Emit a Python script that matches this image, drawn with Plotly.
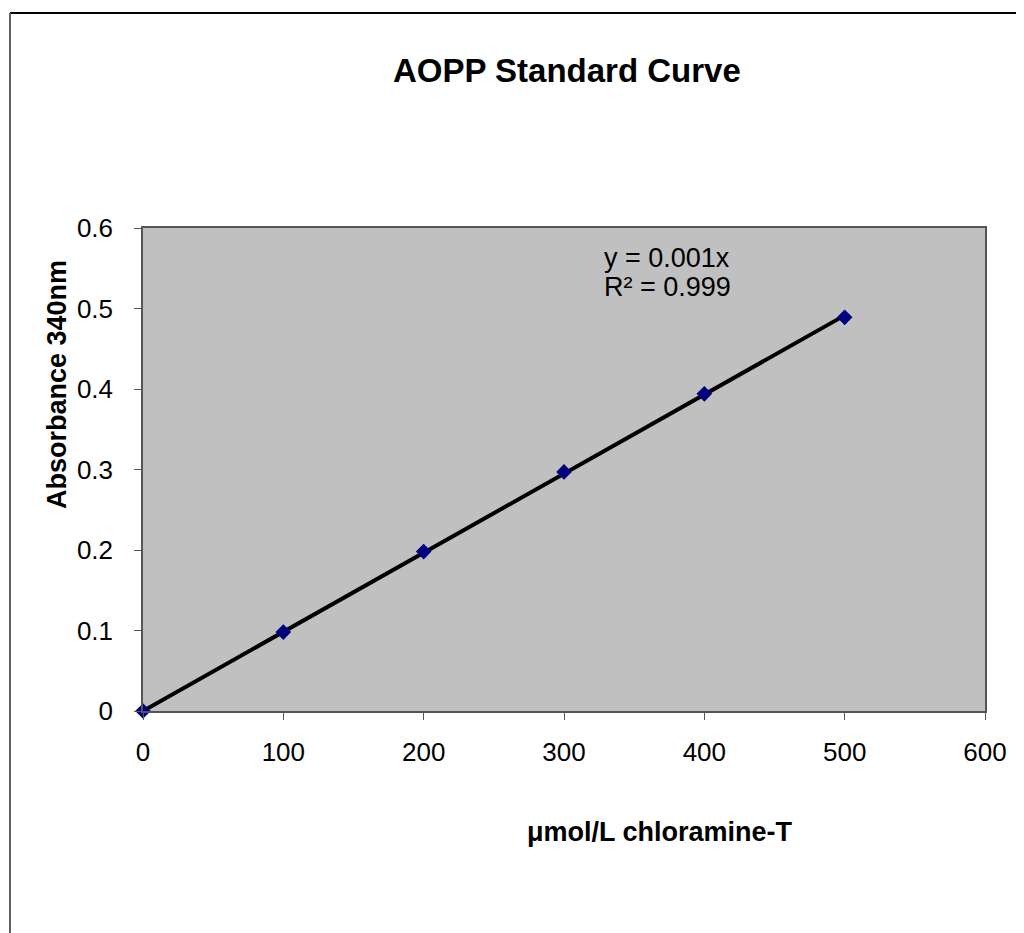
import numpy as np
import plotly.graph_objects as go

concentration = [0, 100, 200, 300, 400, 500]
absorbance = [0.0, 0.098, 0.198, 0.297, 0.394, 0.489]
x_ticks = [0, 100, 200, 300, 400, 500, 600]
y_ticks = [0, 0.1, 0.2, 0.3, 0.4, 0.5, 0.6]
y_tick_text = ["0", "0.1", "0.2", "0.3", "0.4", "0.5", "0.6"]

xa = np.array(concentration, dtype=float)
ya = np.array(absorbance, dtype=float)
slope = float((xa * ya).sum() / (xa * xa).sum())
fit_x = [0, 500]
fit_y = [slope * v for v in fit_x]

# page body has an 8px margin; work in reference coordinates and shift
OFF = 8
W, H = 1024 - OFF, 933 - OFF
L, R, T, B = 143 - OFF, 985 - OFF, 228 - OFF, 711 - OFF
pw, ph = R - L, B - T

def px(x):
    return (x - OFF - L) / pw

def py(y):
    return (B - (y - OFF)) / ph

font = "Liberation Sans, Arial, sans-serif"

fig = go.Figure()
fig.add_trace(go.Scatter(x=fit_x, y=fit_y, mode="lines",
                         line=dict(color="black", width=4), hoverinfo="skip",
                         cliponaxis=False))
fig.add_trace(go.Scatter(x=concentration, y=absorbance, mode="markers",
                         marker=dict(symbol="diamond", size=12, color="#000080",
                                     line=dict(width=0)),
                         cliponaxis=False))

fig.update_layout(
    width=W, height=H,
    margin=dict(l=L, r=W - R, t=T, b=H - B),
    paper_bgcolor="white", plot_bgcolor="#C0C0C0",
    showlegend=False,
    font=dict(family=font, color="black", size=26),
)
fig.update_xaxes(range=[0, 600], tickvals=x_ticks, ticktext=[str(v) for v in x_ticks],
                 showgrid=False, zeroline=False, showline=True, linecolor="#555555",
                 linewidth=1.5, mirror=True, ticks="outside", ticklen=7, tickcolor="#555555",
                 tickfont=dict(size=26, family=font), ticklabelstandoff=10)
fig.update_yaxes(range=[0, 0.6], tickvals=y_ticks, ticktext=y_tick_text,
                 showgrid=False, zeroline=False, showline=True, linecolor="#555555",
                 linewidth=1.5, mirror=True, ticks="outside", ticklen=7, tickcolor="#555555",
                 tickfont=dict(size=26, family=font), ticklabelstandoff=16)

annotations = [
    dict(text="<b>AOPP Standard Curve</b>", x=px(567), y=py(70), xref="paper", yref="paper",
         showarrow=False, font=dict(size=33, family=font), xanchor="center", yanchor="middle"),
    dict(text="<b>μmol/L chloramine-T</b>", x=px(660), y=py(832), xref="paper", yref="paper",
         showarrow=False, font=dict(size=27, family=font), xanchor="center", yanchor="middle"),
    dict(text="<b>Absorbance 340nm</b>", x=px(57), y=py(385), xref="paper", yref="paper",
         showarrow=False, font=dict(size=27, family=font), textangle=-90,
         xanchor="center", yanchor="middle"),
    dict(text="y = 0.001x", x=px(602), y=py(258), xref="paper", yref="paper",
         showarrow=False, font=dict(size=27, family=font), align="left",
         xanchor="left", yanchor="middle"),
    dict(text="R² = 0.999", x=px(602), y=py(287), xref="paper", yref="paper",
         showarrow=False, font=dict(size=27, family=font), align="left",
         xanchor="left", yanchor="middle"),
]
fig.update_layout(annotations=annotations)

fig.update_layout(shapes=[
    dict(type="line", xref="paper", yref="paper", x0=px(10), x1=px(1030), y0=py(13), y1=py(13),
         line=dict(color="black", width=2)),
    dict(type="line", xref="paper", yref="paper", x0=px(10), x1=px(10), y0=py(13), y1=py(940),
         line=dict(color="#606060", width=2)),
])

fig.write_html("out.html")
